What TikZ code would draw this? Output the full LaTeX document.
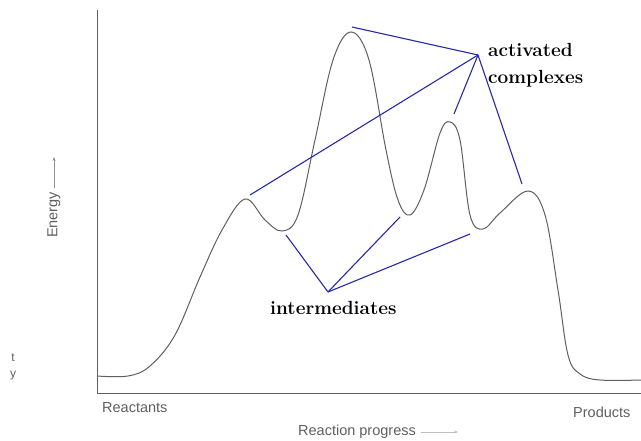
\documentclass[tikz,border=0pt]{standalone}
\usepackage{fontspec}
\newfontfamily\plotfont{Liberation Sans}
\usetikzlibrary{arrows.meta, positioning}

\definecolor{penblue}{RGB}{40,40,170}
\definecolor{inkgray}{RGB}{95,95,95}

\begin{document}
\begin{tikzpicture}[x=1pt, y=-1pt,
  axis/.style={draw=inkgray, line width=1pt},
  curve/.style={draw=inkgray, line width=1pt},
  pointer/.style={draw=penblue, line width=1.1pt},
  callout/.style={font=\fontsize{19}{27}\selectfont\bfseries, inner sep=0pt, align=left},
  axlabel/.style={font=\plotfont\fontsize{14.5}{16}\selectfont, text=inkgray, inner sep=0pt},
  axarrow/.style={draw=inkgray!70, line width=0.8pt, -{Stealth[length=4pt]}}
]
  \useasboundingbox (0,0) rectangle (641,441);

  % axes
  \draw[axis] (97,10) -- (97,393) -- (641,393);

  % energy profile
  \draw[curve] plot[smooth, tension=0.6] coordinates {
    (97,376) (128,376) (150,366) (175,335) (200,277) (222,230) (245,199)
    (265,220) (282,231) (298,215) (315,140) (333,60) (351,32) (369,60)
    (386,150) (398,200) (410,215) (424,190) (440,133) (450,122) (460,140)
    (470,215) (483,229) (500,213) (528,191) (545,215) (558,290) (568,355)
    (580,374) (600,380) (641,380)};

  % axis labels
  \node[axlabel, rotate=90] (energy) at (54,215) {Energy};
  \coordinate (etip) at (54,157);
  \draw[axarrow, shorten <=4pt] (energy.east) -- (etip);

  \node[axlabel, anchor=west] (reactants) at (102,408) {Reactants};
  \node[axlabel, anchor=west] (products) at (573,412) {Products};
  \node[axlabel, anchor=west] (progress) at (298,432) {Reaction progress};
  \coordinate (ptip) at (458,432);
  \draw[axarrow, draw=inkgray!40, shorten <=5pt] (progress.east) -- (ptip);

  % cut-off text at the left edge
  \node[axlabel, font=\plotfont\fontsize{12}{13}\selectfont, text=inkgray] (cut1) at (13,358) {t};
  \node[axlabel, font=\plotfont\fontsize{12}{13}\selectfont, text=inkgray] (cut2) at (13,376) {y};

  % activated complexes
  \node[callout, anchor=north west] (actlbl) at (488,43) {activated\\complexes};
  \coordinate (ac) at (478,55);
  \coordinate (ac1) at (352,27);
  \coordinate (ac2) at (250,195);
  \coordinate (ac3) at (454,114);
  \coordinate (ac4) at (522,184);
  \foreach \p in {ac1, ac2, ac3, ac4}
    \draw[pointer] (ac) -- (\p);

  % intermediates
  \node[callout, anchor=base west] (intlbl) at (270,315) {intermediates};
  \coordinate (im) at (328,292);
  \coordinate (im1) at (286,235);
  \coordinate (im2) at (400,217);
  \coordinate (im3) at (470,234);
  \foreach \p in {im1, im2, im3}
    \draw[pointer] (im) -- (\p);
\end{tikzpicture}
\end{document}
